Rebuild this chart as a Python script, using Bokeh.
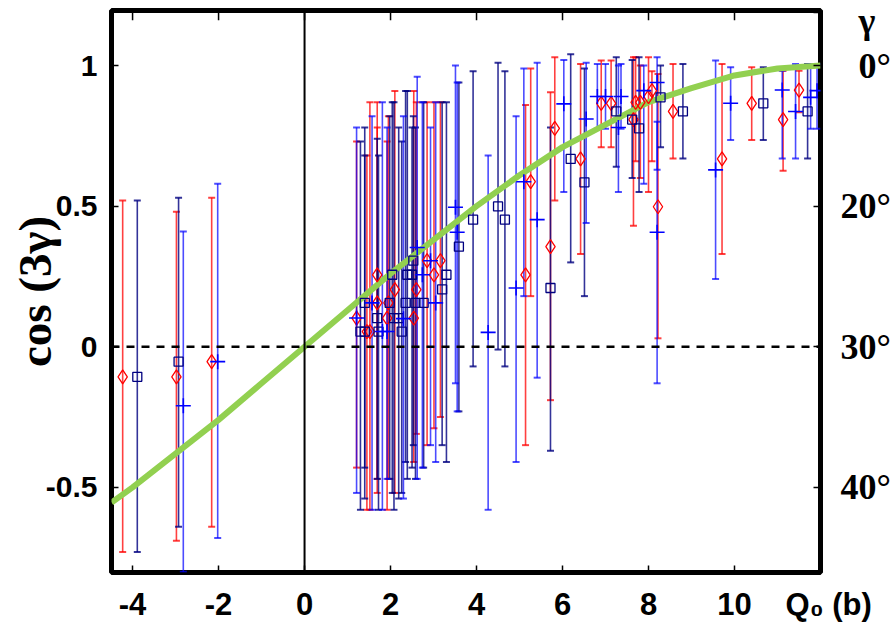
from bokeh.plotting import figure
from bokeh.models import (ColumnDataSource, Whisker, TeeHead, Range1d, LinearAxis,
                          FixedTicker, Span)
from bokeh.embed import file_html
from bokeh.resources import INLINE

# ---------------- data ----------------
red_x = [-4.23, -2.98, -2.16, 1.21, 1.45, 1.52, 1.69, 1.69, 1.92, 1.95, 2.10, 2.54, 2.60, 2.85, 3.01, 3.16,
         5.14, 5.26, 5.72, 5.82, 6.42, 6.90, 7.13, 7.65, 7.70, 7.81, 8.00, 8.08, 8.22, 8.57, 9.71, 10.40, 11.13, 11.50]
red_y = [-0.107, -0.107, -0.053, 0.102, 0.054, 0.054, 0.156, 0.256, 0.102, 0.156, 0.203, 0.102, 0.203, 0.306, 0.256, 0.306,
         0.256, 0.587, 0.356, 0.777, 0.668, 0.866, 0.866, 0.808, 0.869, 0.869, 0.89, 0.911, 0.498, 0.837, 0.668, 0.866, 0.808, 0.913]
red_lo = [-0.73, -0.69, -0.64, -0.43, -0.58, -0.58, -0.52, -0.47, -0.58, -0.47, -0.52, -0.41, -0.31, -0.35, -0.29, -0.25,
          -0.35, 0.18, -0.19, 0.52, 0.33, 0.71, 0.71, 0.43, 0.66, 0.60, 0.55, 0.66, 0.03, 0.67, 0.33, 0.735, 0.626, 0.834]
red_hi = [0.52, 0.48, 0.53, 0.73, 0.68, 0.87, 0.78, 0.87, 0.73, 0.82, 0.91, 0.91, 0.87, 0.87, 0.87, 0.87,
          0.86, 0.99, 0.905, 1.03, 1.006, 1.018, 1.018, 1.03, 1.03, 1.0, 1.03, 0.98, 0.97, 1.006, 1.006, 0.994, 0.982, 0.982]

navy_x = [-3.89, -2.93, 1.30, 1.40, 1.72, 2.26, 1.69, 2.08, 2.19, 1.40, 1.98, 2.35, 2.58, 2.77, 3.20, 2.04, 2.39,
          2.50, 3.30, 2.53, 3.59, 3.92, 4.50, 4.66, 5.72, 6.19, 6.51, 7.25, 7.62, 7.78, 8.28, 8.80, 10.67, 11.70]
navy_y = [-0.107, -0.053, 0.054, 0.054, 0.054, 0.054, 0.102, 0.102, 0.102, 0.156, 0.156, 0.156, 0.156, 0.156, 0.204,
          0.256, 0.256, 0.256, 0.256, 0.306, 0.356, 0.452, 0.499, 0.452, 0.209, 0.668, 0.585, 0.837, 0.808, 0.777,
          0.887, 0.837, 0.866, 0.837]
navy_lo = [-0.73, -0.64, -0.58, -0.54, -0.58, -0.52, -0.47, -0.58, -0.54, -0.43, -0.47, -0.41, -0.47, -0.43, -0.35,
           -0.52, -0.47, -0.43, -0.41, -0.35, -0.23, -0.07, -0.01, -0.07, -0.37, 0.30, 0.18, 0.64, 0.60, 0.55,
           0.71, 0.67, 0.735, 0.67]
navy_hi = [0.52, 0.53, 0.73, 0.78, 0.68, 0.73, 0.74, 0.87, 0.78, 0.68, 0.82, 0.91, 0.78, 0.87, 0.87,
           0.87, 0.91, 0.78, 0.87, 0.82, 0.94, 0.98, 1.01, 0.98, 0.78, 1.04, 0.99, 1.03, 1.02, 1.03,
           1.0, 1.006, 0.994, 1.006]

blue_x = [-2.82, -2.02, 1.21, 1.57, 1.81, 1.92, 2.30, 2.62, 2.74, 2.93, 3.05, 3.51, 3.55, 4.27, 4.92, 5.10, 5.41,
          6.03, 6.55, 6.81, 7.00, 7.30, 7.36, 7.89, 8.20, 8.20, 9.56, 9.91, 11.11, 11.42, 11.77, 11.92]
blue_y = [-0.21, -0.053, 0.102, 0.156, 0.054, 0.054, 0.10, 0.353, 0.256, 0.306, 0.156, 0.496, 0.407, 0.051, 0.209,
          0.587, 0.452, 0.864, 0.81, 0.89, 0.89, 0.78, 0.89, 0.911, 0.94, 0.407, 0.629, 0.866, 0.913, 0.837, 0.887, 0.911]
blue_lo = [-0.80, -0.68, -0.52, -0.58, -0.58, -0.47, -0.54, -0.47, -0.43, -0.35, -0.41, -0.13, -0.23, -0.58, -0.41,
           0.18, -0.11, 0.55, 0.44, 0.775, 0.775, 0.55, 0.775, 0.58, 0.63, -0.13, 0.241, 0.735, 0.67, 0.67, 0.775, 0.775]
blue_hi = [0.41, 0.58, 0.78, 0.82, 0.87, 0.78, 0.82, 0.96, 0.87, 0.78, 0.87, 1.0, 0.94, 0.68, 0.82,
           0.99, 1.01, 1.02, 1.01, 1.006, 1.006, 1.0, 1.006, 1.0, 1.03, 0.80, 1.018, 0.994, 0.982, 1.006, 1.006, 1.006]

curve_x = [-4.49, -4, -3, -2, -1, 0, 1, 2, 3, 4, 5, 6, 7, 8, 9, 10, 11, 12]
curve_y = [-0.554, -0.50, -0.38, -0.26, -0.13, 0.0, 0.13, 0.26, 0.38, 0.50, 0.61, 0.71, 0.79, 0.87, 0.92, 0.965, 0.99, 1.0]

x_ticks = [-4, -2, 0, 2, 4, 6, 8, 10]
x_tick_labels = ["-4", "-2", "0", "2", "4", "6", "8", "10"]
x_title = "\u2007Q\u2080 (b)"
y_ticks = [-0.5, 0, 0.5, 1]
y_tick_labels = ["-0.5", "0", "0.5", "1"]
gamma_tick_labels = ["40°", "30°", "20°", "\u20070°"]
gamma_title = "\u2007γ"

X_MIN, X_MAX = -4.49, 12.0
Y_MIN, Y_MAX = -0.803, 1.196

# ---------------- figure ----------------
p = figure(width=896, height=624, output_backend="svg", toolbar_location=None,
           x_range=Range1d(X_MIN, X_MAX), y_range=Range1d(Y_MIN, Y_MAX),
           min_border_left=111, min_border_right=76, min_border_top=10, min_border_bottom=52,
           x_axis_location=None, y_axis_location=None)
p.grid.visible = False
p.outline_line_color = "black"
p.outline_line_width = 5
p.background_fill_color = "white"
p.border_fill_color = "white"

SANS = "'Liberation Sans Narrow', 'Liberation Sans'"
SERIF = "Liberation Serif"

def style_axis(ax):
    ax.axis_line_color = None
    ax.major_tick_in = 7
    ax.major_tick_out = 0
    ax.major_tick_line_width = 1.5
    ax.major_tick_line_color = "black"
    ax.minor_tick_line_color = None
    ax.major_label_text_color = "black"
    ax.axis_label_text_color = "black"

left = LinearAxis(ticker=FixedTicker(ticks=y_ticks),
                  major_label_overrides={t: l for t, l in zip(y_ticks, y_tick_labels)})
style_axis(left)
left.major_label_text_font = SANS
left.major_label_text_font_style = "bold"
left.major_label_text_font_size = "30px"
left.major_label_standoff = 14
left.axis_label = "cos (3γ)"
left.axis_label_text_font = SERIF
left.axis_label_text_font_style = "bold"
left.axis_label_text_font_size = "47px"
left.axis_label_standoff = -18
p.add_layout(left, "left")

# bottom axis; the axis title sits at the right edge of the frame, on the tick-label row
x_edge = X_MAX - 0.01
bottom = LinearAxis(ticker=FixedTicker(ticks=x_ticks + [x_edge]),
                    major_label_overrides={**{t: l for t, l in zip(x_ticks, x_tick_labels)}, x_edge: x_title})
style_axis(bottom)
bottom.major_label_text_font = SANS
bottom.major_label_text_font_style = "bold"
bottom.major_label_text_font_size = "31px"
bottom.major_label_standoff = 14
p.add_layout(bottom, "below")

# right axis in gamma; its title sits at the top edge
y_edge = Y_MAX - 0.006
right = LinearAxis(ticker=FixedTicker(ticks=y_ticks + [y_edge]),
                   major_label_overrides={**{t: l for t, l in zip(y_ticks, gamma_tick_labels)}, y_edge: gamma_title})
style_axis(right)
right.major_label_text_font = SERIF
right.major_label_text_font_style = "bold"
right.major_label_text_font_size = "36px"
right.major_label_standoff = 20
p.add_layout(right, "right")

# inward tick marks along the top edge (mirroring the bottom ticks)
p.segment(x0=x_ticks, y0=[Y_MAX] * len(x_ticks), x1=x_ticks, y1=[Y_MAX - 0.035] * len(x_ticks),
          line_color="black", line_width=1.5)

# reference lines
p.add_layout(Span(location=0, dimension="height", line_color="black", line_width=2))
p.add_layout(Span(location=0, dimension="width", line_color="black", line_width=2.5, line_dash="8 7"))

# error bars
def bars(xs, ys, lo, hi, color, alpha):
    src = ColumnDataSource(dict(x=xs, y=ys, lo=lo, hi=hi))
    w = Whisker(source=src, base="x", upper="hi", lower="lo", dimension="height",
                line_color=color, line_alpha=alpha, line_width=1.6,
                upper_head=TeeHead(size=7, line_color=color, line_alpha=alpha, line_width=2),
                lower_head=TeeHead(size=7, line_color=color, line_alpha=alpha, line_width=2))
    p.add_layout(w)
    return src

src_r = bars(red_x, red_y, red_lo, red_hi, "#ff0000", 0.75)
src_n = bars(navy_x, navy_y, navy_lo, navy_hi, "#000080", 0.8)
src_b = bars(blue_x, blue_y, blue_lo, blue_hi, "#0000ff", 0.7)

# model curve
p.line(curve_x, curve_y, line_width=6, line_color="#92D050")

# markers
p.scatter("x", "y", source=src_r, marker="diamond", size=14, fill_color=None,
          line_color="#ff0000", line_width=1.3)
p.scatter("x", "y", source=src_n, marker="square", size=9, fill_color=None,
          line_color="#000080", line_width=1.3)
p.scatter("x", "y", source=src_b, marker="cross", size=15,
          line_color="#0000ff", line_width=1.6)

open("out.html", "w").write(file_html(p, INLINE))
